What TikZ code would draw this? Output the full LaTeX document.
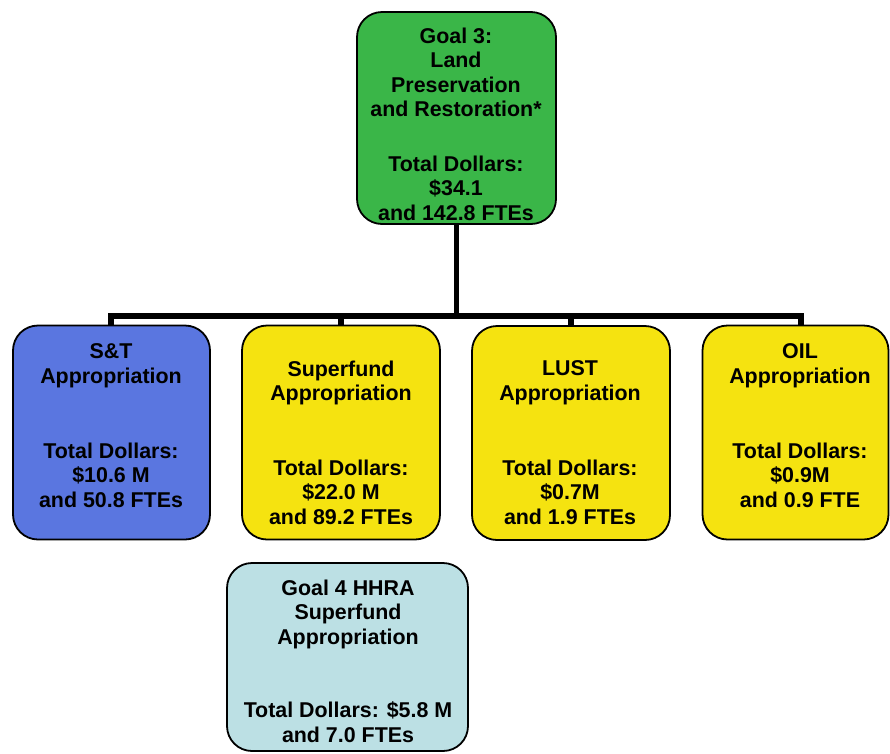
\documentclass[tikz,border=0pt]{standalone}
\usepackage{fontspec}
\setmainfont{Liberation Sans}
\usetikzlibrary{backgrounds}
\definecolor{goalgreen}{RGB}{58,182,72}
\definecolor{stblue}{RGB}{90,118,224}
\definecolor{appyellow}{RGB}{245,227,16}
\definecolor{hhracyan}{RGB}{188,224,228}
\tikzset{
  box/.style={draw=black, line width=1.8pt, rounded corners=25pt, inner sep=0pt},
  txt/.style={align=center, anchor=north, inner sep=0pt,
    font=\fontsize{21.4}{24.5}\selectfont\bfseries},
  conn/.style={draw=black, line width=5.5pt, line join=miter}
}
\begin{document}
\begin{tikzpicture}[x=1pt,y=-1pt]
\useasboundingbox (0,0) rectangle (890,753);
% boxes
\node[box, fill=goalgreen, minimum width=199pt, minimum height=212pt] (goal) at (456.5,118) {};
\node[box, fill=stblue, minimum width=197pt, minimum height=214pt] (st) at (111.5,432.5) {};
\node[box, fill=appyellow, minimum width=198pt, minimum height=214pt] (sf) at (341,432.5) {};
\node[box, fill=appyellow, minimum width=198pt, minimum height=214pt] (lust) at (571,433) {};
\node[box, fill=appyellow, minimum width=186pt, minimum height=214pt] (oil) at (795.5,432.5) {};
\node[box, fill=hhracyan, minimum width=241pt, minimum height=188pt] (hhra) at (347.5,657) {};
% connectors
\coordinate (bus) at (456.5,316);
\coordinate (stdrop) at (111,325.5);
\coordinate (oildrop) at (801,325.5);
\begin{pgfonlayer}{background}
\draw[conn] (goal.south) -- (goal.south |- bus);
\draw[conn] (stdrop) -- (stdrop |- bus) -- (oildrop |- bus) -- (oildrop);
\draw[conn] (sf.north) -- (sf.north |- bus);
\draw[conn] (lust.north) -- (lust.north |- bus);
\end{pgfonlayer}
% texts
\node[txt] (goalh) at (456,27.5) {Goal 3:\\Land\\Preservation\\and Restoration*};
\node[txt] (goald) at (456,155.5) {Total Dollars:\\\$34.1\\and 142.8 FTEs};
\node[txt] (sth) at (111,343.5) {S\&T\\Appropriation};
\node[txt] (std) at (111,442.5) {Total Dollars:\\\$10.6 M\\and 50.8 FTEs};
\node[txt] (sfh) at (341,360.5) {Superfund\\Appropriation};
\node[txt] (sfd) at (341,459.5) {Total Dollars:\\\$22.0 M\\and 89.2 FTEs};
\node[txt] (lusth) at (570,360.5) {LUST\\Appropriation};
\node[txt] (lustd) at (570,459.5) {Total Dollars:\\\$0.7M\\and 1.9 FTEs};
\node[txt] (oilh) at (800,343.5) {OIL\\Appropriation};
\node[txt] (oild) at (800,442.5) {Total Dollars:\\\$0.9M\\and 0.9 FTE};
\node[txt] (hhrah) at (348,579.5) {Goal 4 HHRA\\Superfund\\Appropriation};
\node[txt] (hhrad) at (348,701.5) {Total Dollars: \$5.8 M\\and 7.0 FTEs};
\end{tikzpicture}
\end{document}
